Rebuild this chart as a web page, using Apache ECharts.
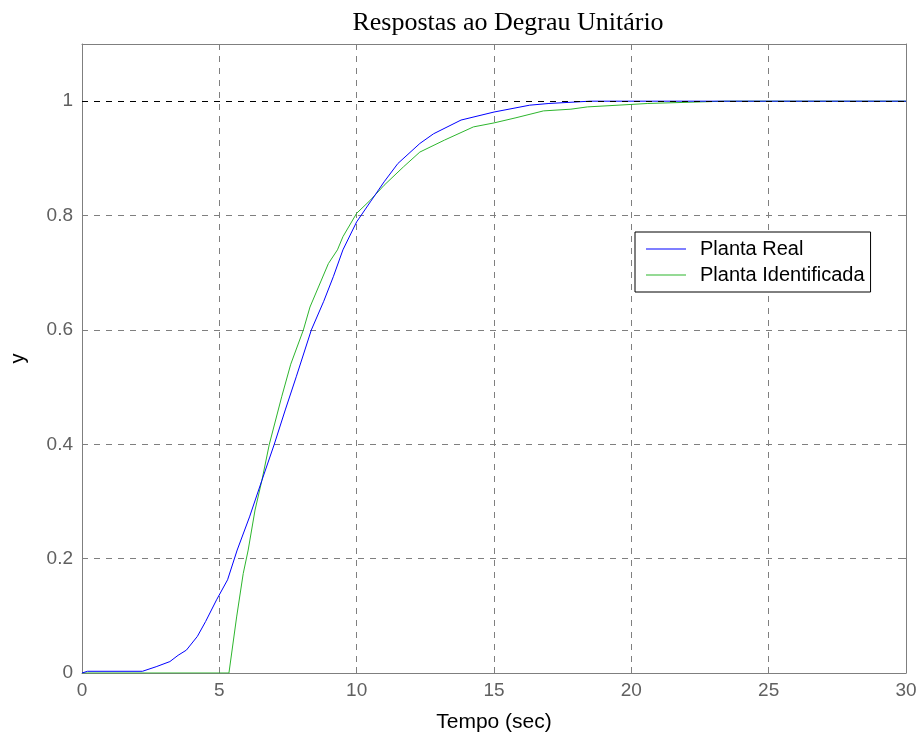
<!DOCTYPE html>
<html>
<head>
<meta charset="utf-8">
<script src="https://cdn.jsdelivr.net/npm/echarts@6/dist/echarts.min.js"></script>
<style>html,body{margin:0;padding:0;background:#fff}#c{width:920px;height:742px}</style>
</head>
<body>
<div id="c"></div>
<script>
const titleText = 'Respostas ao Degrau Unitário';
const xName = 'Tempo (sec)';
const yName = 'y';
const seriesNames = ['Planta Real', 'Planta Identificada'];

const realT = [0, 0.2, 2.2, 2.7, 3.2, 3.5, 3.8, 4.2, 4.5, 4.9, 5.3, 5.65, 6.1, 6.55, 7.0, 7.4, 7.8, 8.35, 8.8, 9.15, 9.5, 10.0, 10.5, 11.0, 11.5, 12.3, 12.8, 13.8, 15.0, 16.3, 17.0, 18.5, 30];
const realY = [0, 0.003, 0.003, 0.011, 0.02, 0.031, 0.04, 0.064, 0.09, 0.128, 0.163, 0.215, 0.273, 0.337, 0.40, 0.46, 0.518, 0.60, 0.65, 0.693, 0.74, 0.789, 0.824, 0.859, 0.891, 0.926, 0.943, 0.967, 0.981, 0.993, 0.996, 1.0, 1.0];

const identT = [0, 5.35, 5.63, 5.87, 6.05, 6.3, 6.55, 6.82, 7.27, 7.6, 8.06, 8.3, 8.97, 9.3, 9.5, 10.0, 10.5, 11.0, 11.7, 12.3, 13.2, 14.25, 15.0, 15.8, 16.8, 17.8, 18.4, 19.15, 20.6, 23.4, 30];
const identY = [0, 0, 0.098, 0.174, 0.215, 0.285, 0.337, 0.40, 0.483, 0.54, 0.60, 0.64, 0.716, 0.74, 0.763, 0.804, 0.827, 0.853, 0.885, 0.911, 0.932, 0.955, 0.962, 0.971, 0.983, 0.986, 0.99, 0.992, 0.996, 1.0, 1.0];

const steadyValue = 1;

const zip = (a, b) => a.map((v, i) => [v, b[i]]);

const chart = echarts.init(document.getElementById('c'), null, {renderer: 'canvas'});
const gray = '#7f7f7f';
const tickColor = '#606060';
const sans = '"Liberation Sans", Arial, sans-serif';

chart.setOption({
  animation: false,
  backgroundColor: '#ffffff',
  title: {
    text: titleText,
    left: 503, top: 5, textAlign: 'center',
    textStyle: {fontFamily: '"Liberation Serif", "Times New Roman", serif', fontSize: 26, fontWeight: 'normal', color: '#000'}
  },
  legend: {
    data: seriesNames.map(n => ({name: n, icon: 'rect'})),
    orient: 'vertical',
    left: 635, top: 232,
    backgroundColor: '#fff',
    borderColor: '#000', borderWidth: 1, borderRadius: 0,
    padding: [7, 6, 7, 11],
    itemWidth: 40, itemHeight: 1, itemGap: 6,
    textStyle: {fontFamily: sans, fontSize: 20, color: '#000', padding: [0, 0, 0, 9], lineHeight: 20}
  },
  grid: {left: 82, right: 14, top: 44, bottom: 69, containLabel: false, outerBoundsMode: 'none'},
  xAxis: [{
    type: 'value', min: 0, max: 30, interval: 5,
    name: xName, nameLocation: 'middle', nameGap: 39,
    nameTextStyle: {fontFamily: sans, fontSize: 21, color: '#000'},
    axisLine: {show: true, onZero: false, lineStyle: {color: gray, width: 1}},
    axisTick: {show: true, inside: true, length: 6, lineStyle: {color: gray}},
    axisLabel: {fontFamily: sans, fontSize: 19, color: tickColor, margin: 8},
    splitLine: {show: true, lineStyle: {color: gray, type: [6, 6], width: 1}}
  }, {
    type: 'value', min: 0, max: 30, interval: 5, position: 'top',
    axisLine: {show: true, onZero: false, lineStyle: {color: gray, width: 1}},
    axisTick: {show: true, inside: true, length: 6, lineStyle: {color: gray}},
    axisLabel: {show: false}, splitLine: {show: false}
  }],
  yAxis: [{
    type: 'value', min: 0, max: 1.1, interval: 0.2,
    name: yName, nameLocation: 'middle', nameGap: 54, nameRotate: 90,
    nameTextStyle: {fontFamily: sans, fontSize: 20, color: '#000'},
    axisLine: {show: true, onZero: false, lineStyle: {color: gray, width: 1}},
    axisTick: {show: true, inside: true, length: 6, lineStyle: {color: gray}},
    axisLabel: {fontFamily: sans, fontSize: 19, color: tickColor, margin: 9, showMaxLabel: false,
      formatter: v => (Math.abs(v - 1.1) < 1e-6 ? '' : String(+v.toFixed(1)))},
    splitLine: {show: true, lineStyle: {color: gray, type: [6, 6], width: 1}}
  }, {
    type: 'value', min: 0, max: 1.1, interval: 0.2, position: 'right',
    axisLine: {show: true, onZero: false, lineStyle: {color: gray, width: 1}},
    axisTick: {show: true, inside: true, length: 6, lineStyle: {color: gray}},
    axisLabel: {show: false}, splitLine: {show: false}
  }],
  series: [{
    name: seriesNames[0], type: 'line', symbol: 'none', silent: true,
    data: zip(realT, realY),
    lineStyle: {color: '#0000ff', width: 1}, itemStyle: {color: '#0000ff'},
    z: 3,
    markLine: {
      silent: true, symbol: 'none', label: {show: false},
      lineStyle: {color: '#000', type: [6, 6], width: 1},
      data: [{yAxis: steadyValue}]
    }
  }, {
    name: seriesNames[1], type: 'line', symbol: 'none', silent: true,
    data: zip(identT, identY),
    lineStyle: {color: '#2db52d', width: 1}, itemStyle: {color: '#2db52d'},
    z: 2
  }]
});
</script>
</body>
</html>
